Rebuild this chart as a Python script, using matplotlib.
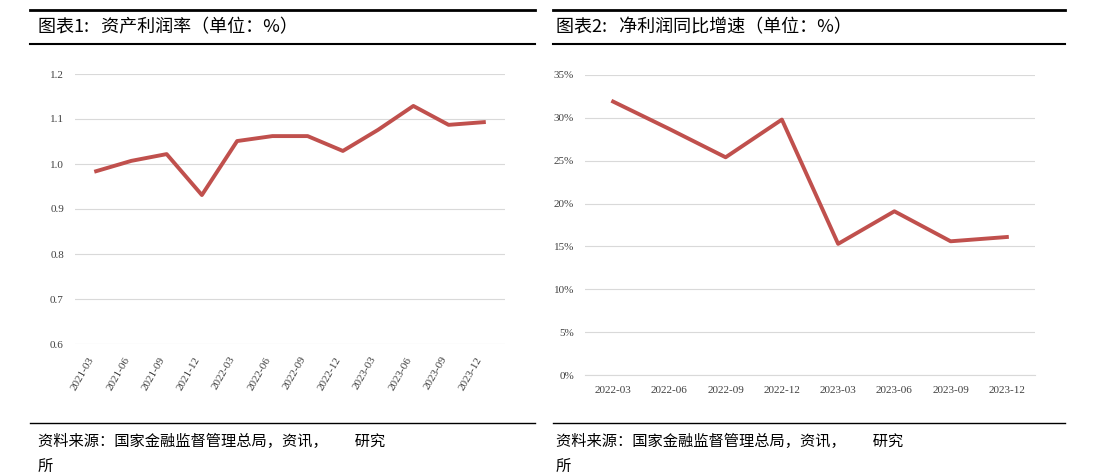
import matplotlib
matplotlib.use('Agg')
import matplotlib.pyplot as plt
from matplotlib.ticker import FuncFormatter

plt.rcParams['font.family'] = ['Noto Sans CJK SC', 'DejaVu Sans']

roa_dates = ['2021-03', '2021-06', '2021-09', '2021-12', '2022-03', '2022-06',
             '2022-09', '2022-12', '2023-03', '2023-06', '2023-09', '2023-12']
roa_vals = [0.984, 1.007, 1.022, 0.931, 1.051, 1.062, 1.062, 1.029, 1.076, 1.129, 1.087, 1.093]

np_dates = ['2022-03', '2022-06', '2022-09', '2022-12', '2023-03', '2023-06', '2023-09', '2023-12']
np_vals = [31.9, 28.7, 25.4, 29.8, 15.3, 19.1, 15.6, 16.1]

red = '#c0504d'
W, H = 1112, 473
fig = plt.figure(figsize=(W / 100, H / 100), dpi=100)

def fx(px): return px / W
def fy(py): return 1 - py / H

# header and footer rules
for x0, x1 in [(30, 535), (553, 1065)]:
    for py, lw in [(10, 2.0), (44, 1.5), (423, 1.0)]:
        fig.add_artist(plt.Line2D([fx(x0), fx(x1)], [fy(py), fy(py)], color='black', lw=lw))

fig.text(fx(38), fy(27), '图表1:   资产利润率（单位：%）', fontsize=13, va='center')
fig.text(fx(556), fy(27), '图表2:   净利润同比增速（单位：%）', fontsize=13, va='center')
for x0 in [38, 556]:
    fig.text(fx(x0), fy(441), '资料来源：国家金融监督管理总局，资讯，        研究', fontsize=11,
             style='italic', va='center')
    fig.text(fx(x0), fy(466), '所', fontsize=11, style='italic', va='center')

tick_font = dict(family='Liberation Serif', fontsize=8, color='#404040')

# left chart
ax1 = fig.add_axes([fx(75), fy(344), fx(505 - 75), (344 - 74) / H])
ax1.plot(range(len(roa_dates)), roa_vals, color=red, lw=2.8)
ax1.set_ylim(0.6, 1.2)
ax1.set_yticks([0.6, 0.7, 0.8, 0.9, 1.0, 1.1, 1.2])
ax1.set_xlim(-0.6, len(roa_dates) - 0.4)
ax1.set_xticks(range(len(roa_dates)))
ax1.set_xticklabels(roa_dates, rotation=60, ha='right', **tick_font)
for t in ax1.get_yticklabels():
    t.set_fontfamily('Liberation Serif'); t.set_fontsize(8); t.set_color('#404040')

# right chart
ax2 = fig.add_axes([fx(585), fy(375), fx(1035 - 585), (375 - 75) / H])
ax2.plot(range(len(np_dates)), np_vals, color=red, lw=2.8)
ax2.set_ylim(0, 35)
ax2.set_yticks(range(0, 36, 5))
ax2.yaxis.set_major_formatter(FuncFormatter(lambda v, p: '%d%%' % v))
ax2.set_xlim(-0.5, len(np_dates) - 0.5)
ax2.set_xticks(range(len(np_dates)))
ax2.set_xticklabels(np_dates, **tick_font)
for t in ax2.get_yticklabels():
    t.set_fontfamily('Liberation Serif'); t.set_fontsize(8); t.set_color('#404040')

for ax in (ax1, ax2):
    ax.grid(axis='y', color='#d9d9d9', lw=0.8)
    ax.set_axisbelow(True)
    for s in ax.spines.values():
        s.set_visible(False)
    ax.tick_params(length=0, pad=8)
ax2.spines['bottom'].set_visible(True)
ax2.spines['bottom'].set_color('#d9d9d9')

fig.savefig('out.png', dpi=100)
